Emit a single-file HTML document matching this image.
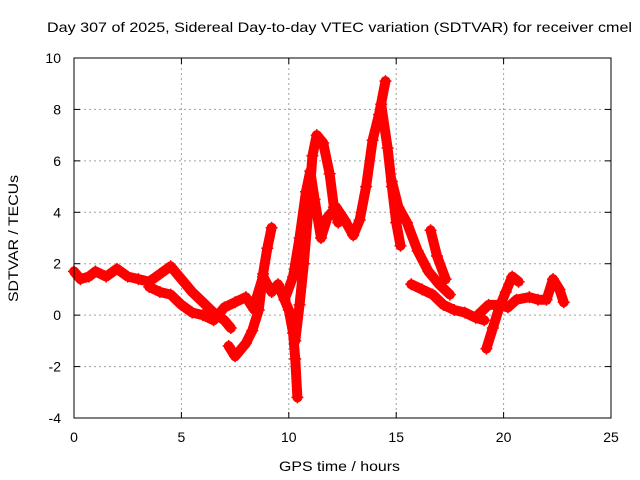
<!DOCTYPE html>
<html><head><meta charset="utf-8"><style>
body{margin:0;background:#fff}
svg{font-family:"Liberation Sans",sans-serif;display:block}
</style></head><body>
<svg width="640" height="480">
<text x="47" y="32" font-size="14" textLength="585" lengthAdjust="spacingAndGlyphs">Day 307 of 2025, Sidereal Day-to-day VTEC variation (SDTVAR) for receiver cmel</text>
<text x="279" y="471" font-size="14" textLength="121" lengthAdjust="spacingAndGlyphs">GPS time / hours</text>
<text transform="translate(18,302) rotate(-90)" font-size="14" textLength="127" lengthAdjust="spacingAndGlyphs">SDTVAR / TECUs</text>
<g id="grid"></g>
<g id="marks"></g>
<rect x="74" y="58" width="537" height="360" fill="none" stroke="#000" stroke-width="1"/>
<g id="ticks"></g>
</svg>
<script>
const xTicks=[0,5,10,15,20,25];
const yTicks=[-4,-2,0,2,4,6,8,10];
const trackA=[[0,1.7],[0.3,1.4],[0.7,1.5],[1,1.7],[1.5,1.5],[2,1.8],[2.5,1.5],[3,1.4],[3.5,1.3],[4,1.6],[4.5,1.9],[5,1.4],[5.5,0.9],[6,0.5],[6.5,0.1],[7,-0.2],[7.3,-0.5]];
const trackB=[[3.5,1.1],[4,0.9],[4.5,0.8],[5,0.4],[5.5,0.1],[6,0.0],[6.5,-0.2],[7,0.3],[7.5,0.5],[8,0.7],[8.4,0.2]];
const trackC=[[7.2,-1.2],[7.5,-1.6],[8,-1.1],[8.3,-0.6],[8.6,0.2],[8.8,1.6],[9.0,2.6],[9.2,3.4]];
const trackD=[[8.4,0.4],[8.8,1.5],[9.2,0.9],[9.5,1.2],[9.8,0.6],[10,0.2],[10.2,-0.7],[10.3,-1.7],[10.4,-3.2]];
const trackE=[[10.3,-1.0],[10.5,0.4],[10.7,2.0],[10.9,4.0],[11.1,6.2],[11.3,7.0],[11.6,6.7],[11.9,5.5],[12.1,4.2],[12.3,3.6]];
const trackF=[[9.8,0.6],[10.2,1.5],[10.5,3.0],[10.8,4.8],[11,5.6],[11.2,4.5],[11.5,3.0],[11.8,3.8],[12.2,4.2],[12.6,3.7],[13,3.1],[13.3,3.7],[13.6,5.0],[13.9,6.8],[14.2,7.8],[14.5,9.1]];
const trackG=[[14.3,8.2],[14.6,6.5],[14.8,5.0],[15.0,3.6],[15.2,2.7]];
const trackH=[[14.8,5.2],[15.1,4.2],[15.5,3.6],[16,2.5],[16.5,1.7],[17,1.2],[17.5,0.8]];
const trackI=[[16.6,3.3],[16.9,2.3],[17.3,1.4]];
const trackJ=[[15.7,1.2],[16.2,1.0],[16.7,0.8],[17.2,0.4],[17.7,0.2],[18.2,0.1],[18.7,-0.1],[19.1,-0.2]];
const trackK=[[19.2,-1.3],[19.5,-0.5],[19.8,0.3],[20.1,0.9],[20.4,1.5],[20.7,1.3]];
const trackL=[[18.8,0.0],[19.3,0.4],[19.8,0.4],[20.2,0.3],[20.6,0.6],[21.2,0.7],[21.6,0.6],[22,0.6],[22.3,1.4],[22.6,1.0],[22.8,0.5]];
const tracks=[trackA,trackB,trackC,trackD,trackE,trackF,trackG,trackH,trackI,trackJ,trackK,trackL];
const X0=74,X1=611,Y0=418,Y1=58,xmin=0,xmax=25,ymin=-4,ymax=10;
const sx=v=>X0+(v-xmin)/(xmax-xmin)*(X1-X0);
const sy=v=>Y0-(v-ymin)/(ymax-ymin)*(Y0-Y1);
const NS='http://www.w3.org/2000/svg';
function mk(t,a){const e=document.createElementNS(NS,t);for(const k in a)e.setAttribute(k,a[k]);return e;}
const grid=document.getElementById('grid'),ticks=document.getElementById('ticks'),marks=document.getElementById('marks');
xTicks.forEach(v=>{const x=sx(v);
 if(v>xmin&&v<xmax){const l=mk('line',{x1:x,x2:x,y1:Y1,y2:Y0,stroke:'#a0a0a0','stroke-dasharray':'2,3'});grid.appendChild(l);}
 const t=mk('line',{x1:x,x2:x,y1:Y0,y2:Y0-6,stroke:'#000'});ticks.appendChild(t);
 const t2=mk('line',{x1:x,x2:x,y1:Y1,y2:Y1+6,stroke:'#000'});ticks.appendChild(t2);
 const tx=mk('text',{x:x,y:Y0+24,'font-size':14,'text-anchor':'middle'});tx.textContent=v;ticks.appendChild(tx);});
yTicks.forEach(v=>{const y=sy(v);
 if(v>ymin&&v<ymax){const l=mk('line',{x1:X0,x2:X1,y1:y,y2:y,stroke:'#a0a0a0','stroke-dasharray':'2,3'});grid.appendChild(l);}
 const t=mk('line',{x1:X0,x2:X0+6,y1:y,y2:y,stroke:'#000'});ticks.appendChild(t);
 const t2=mk('line',{x1:X1,x2:X1-6,y1:y,y2:y,stroke:'#000'});ticks.appendChild(t2);
 const tx=mk('text',{x:X0-13,y:y+5,'font-size':14,'text-anchor':'end'});tx.textContent=v;ticks.appendChild(tx);});
tracks.forEach(tr=>{
 const p=mk('polyline',{points:tr.map(d=>sx(d[0])+','+sy(d[1])).join(' '),fill:'none',stroke:'#ff0000','stroke-width':10,'stroke-linejoin':'round','stroke-linecap':'round'});
 
 
 marks.appendChild(p);
 tr.forEach(d=>{const x=sx(d[0]),y=sy(d[1]);
  const m=mk('path',{d:`M${x-6},${y}H${x+6}M${x},${y-6}V${y+6}`,stroke:'#ff0000','stroke-width':1.5});
  
  
  marks.appendChild(m);});
});
</script>
</body></html>
